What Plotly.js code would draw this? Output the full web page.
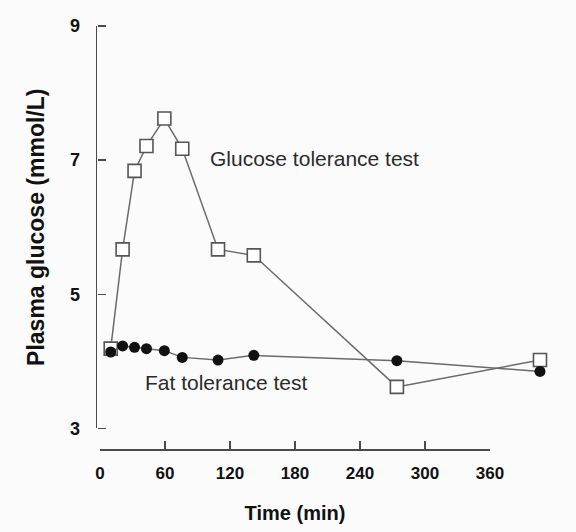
<!DOCTYPE html>
<html>
<head>
<meta charset="utf-8">
<script src="https://cdn.plot.ly/plotly-3.0.1.min.js"></script>
<style>
  html, body { margin: 0; padding: 0; background: #fbfbfb; }
  #chart { width: 576px; height: 532px; }
</style>
</head>
<body>
<div id="chart"></div>
<script>
// sampling times (min)
const times = [0, 10, 20, 30, 45, 60, 90, 120, 240, 360];
// plasma glucose (mmol/L)
const glucoseTest = [4.19, 5.67, 6.84, 7.21, 7.62, 7.17, 5.67, 5.58, 3.62, 4.02];
const fatTest = [4.14, 4.23, 4.21, 4.19, 4.16, 4.06, 4.02, 4.09, 4.01, 3.85];

const xTicks = [0, 60, 120, 180, 240, 300, 360];
const yTicks = [3, 5, 7, 9];

const lineColor = '#6a6a6a';
const axisColor = '#4a4a4a';
const font = 'Liberation Sans, Arial, sans-serif';

const traces = [
    {
        name: 'Glucose tolerance test',
        x: times,
        y: glucoseTest,
        mode: 'lines+markers',
        type: 'scatter',
        line: {color: lineColor, width: 1.5},
        marker: {
            symbol: 'square',
            size: 13,
            color: '#ffffff',
            line: {color: '#555555', width: 1.6}
        },
        cliponaxis: false,
        showlegend: false
    },
    {
        name: 'Fat tolerance test',
        x: times,
        y: fatTest,
        mode: 'lines+markers',
        type: 'scatter',
        line: {color: lineColor, width: 1.5},
        marker: {symbol: 'circle', size: 11, color: '#111111'},
        cliponaxis: false,
        showlegend: false
    },
    // empty traces so the extra axes get drawn
    {
        x: [], y: [], xaxis: 'x2', yaxis: 'y',
        type: 'scatter', mode: 'markers', hoverinfo: 'skip', showlegend: false
    },
    {
        x: [], y: [], xaxis: 'x', yaxis: 'y2',
        type: 'scatter', mode: 'markers', hoverinfo: 'skip', showlegend: false
    }
];

const layout = {
    width: 576,
    height: 532,
    margin: {l: 97, r: 31, t: 26, b: 83},
    paper_bgcolor: '#fbfbfb',
    plot_bgcolor: 'rgba(0,0,0,0)',
    font: {family: font, color: '#111111'},
    // axis the points are plotted on (not drawn)
    xaxis: {
        range: [-11.49, 364.2],
        domain: [0, 1],
        showline: false,
        showticklabels: false,
        ticks: '',
        showgrid: false,
        zeroline: false
    },
    // drawn time axis, detached below the y axis
    xaxis2: {
        anchor: 'free',
        position: 0,
        domain: [0.0067, 0.8772],
        range: [0, 360],
        tickvals: xTicks,
        ticktext: xTicks.map(String),
        ticks: 'inside',
        ticklen: 8,
        tickwidth: 1.5,
        tickcolor: axisColor,
        showline: true,
        linecolor: axisColor,
        linewidth: 1.5,
        showgrid: false,
        zeroline: false,
        ticklabelstandoff: 8,
        tickfont: {family: font, size: 17, weight: 'bold', color: '#111111'},
        title: {
            text: 'Time (min)',
            font: {family: font, size: 20, weight: 'bold', color: '#111111'},
            standoff: 24
        }
    },
    // value axis: line, labels and title
    yaxis: {
        anchor: 'x',
        domain: [0.0485, 1],
        range: [3, 9],
        tickvals: yTicks,
        ticktext: yTicks.map(String),
        ticks: 'outside',
        ticklen: 12,
        tickcolor: 'rgba(0,0,0,0)',
        showline: true,
        linecolor: axisColor,
        linewidth: 1.5,
        showgrid: false,
        zeroline: false,
        tickfont: {family: font, size: 18, weight: 'bold', color: '#111111'},
        title: {
            text: 'Plasma glucose (mmol/L)',
            font: {family: font, size: 23, weight: 'bold', color: '#111111'},
            standoff: 19
        }
    },
    // same scale, only for the tick marks pointing into the plot
    yaxis2: {
        overlaying: 'y',
        side: 'right',
        anchor: 'free',
        position: 0,
        range: [3, 9],
        tickvals: yTicks,
        ticks: 'outside',
        ticklen: 8,
        tickwidth: 1.5,
        tickcolor: axisColor,
        showticklabels: false,
        showline: false,
        showgrid: false,
        zeroline: false
    },
    annotations: [
        {
            text: 'Glucose tolerance test',
            x: 81.3, y: 7.02, xref: 'x', yref: 'y',
            xanchor: 'left', yanchor: 'middle',
            showarrow: false,
            font: {family: font, size: 21, color: '#2a2a2a'}
        },
        {
            text: 'Fat tolerance test',
            x: 27.3, y: 3.69, xref: 'x', yref: 'y',
            xanchor: 'left', yanchor: 'middle',
            showarrow: false,
            font: {family: font, size: 21, color: '#2a2a2a'}
        }
    ]
};

Plotly.newPlot('chart', traces, layout, {staticPlot: true, displayModeBar: false});
</script>
</body>
</html>
